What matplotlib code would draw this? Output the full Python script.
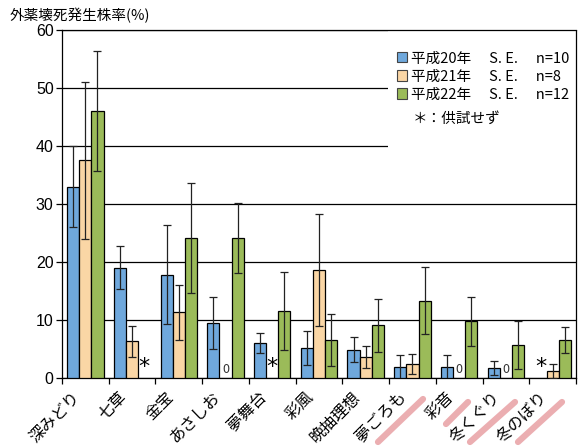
import numpy as np
import matplotlib.pyplot as plt
from matplotlib.patches import Patch, Rectangle

plt.rcParams['font.family'] = ['Noto Sans CJK JP', 'DejaVu Sans']

cultivars = ['深みどり', '七草', '金宝', 'あさしお', '夢舞台', '彩風',
             '晩抽理想', '夢ごろも', '彩音', '冬くぐり', '冬のぼり']
years = ['平成20年', '平成21年', '平成22年']
n_plants = [10, 8, 12]

# nan = not tested (*)
h20 = [33.0, 19.0, 17.8, 9.5, 6.0, 5.2, 4.9, 1.9, 1.9, 1.8, np.nan]
h20_se = [7.0, 3.7, 8.5, 4.5, 1.7, 2.9, 2.2, 2.0, 2.0, 1.2, np.nan]
h21 = [37.5, 6.3, 11.3, 0.0, np.nan, 18.6, 3.7, 2.4, 0.0, 0.0, 1.15]
h21_se = [13.5, 2.6, 4.8, 0.0, np.nan, 9.6, 1.9, 1.7, 0.0, 0.0, 1.2]
h22 = [46.0, np.nan, 24.1, 24.1, 11.6, 6.55, 9.1, 13.3, 9.8, 5.7, 6.55]
h22_se = [10.3, np.nan, 9.5, 6.0, 6.7, 4.4, 4.6, 5.8, 4.2, 4.1, 2.2]

colors = ['#6FA8DC', '#FAD6A5', '#9BBB59']

fig = plt.figure(figsize=(5.82, 4.47), dpi=100)
ax = fig.add_axes([0.1065, 0.1544, 0.8832, 0.7785])

x = np.arange(len(cultivars))
w = 0.26
series = [(h20, h20_se), (h21, h21_se), (h22, h22_se)]
for k, (vals, se) in enumerate(series):
    v = np.array(vals)
    e = np.array(se)
    pos = x + (k - 1) * w
    ok = ~np.isnan(v) & (v > 0)
    ax.bar(pos[ok], v[ok], w, color=colors[k], edgecolor='black',
           linewidth=0.9, zorder=3)
    ax.errorbar(pos[ok], v[ok], yerr=e[ok], fmt='none', ecolor='#222222',
                elinewidth=0.9, capsize=3, capthick=0.9, zorder=4)
    for p, val in zip(pos, v):
        if np.isnan(val):
            ax.text(p, 0.1, '*', ha='center', va='bottom', fontsize=16,
                    family='DejaVu Sans', zorder=5)
        elif val == 0:
            ax.text(p, 0.4, '0', ha='center', va='bottom', fontsize=9,
                    color='#333333', zorder=5)

ax.set_ylim(0, 60)
ax.set_xlim(-0.5, len(cultivars) - 0.5)
ax.set_yticks(np.arange(0, 61, 10))
ax.set_yticklabels([str(t) for t in range(0, 61, 10)],
                   family='Liberation Sans', fontsize=11.5)
ax.yaxis.grid(True, color='black', linewidth=0.9, zorder=1)
ax.set_axisbelow(True)

ax.set_xticks(np.arange(-0.5, len(cultivars), 1.0))
ax.set_xticklabels([])
ax.tick_params(axis='x', direction='out', length=4, width=0.9)
ax.tick_params(axis='y', direction='out', length=4, width=0.9, pad=2)
for i, name in enumerate(cultivars):
    ax.text(i - 0.3, -1.8, name, rotation=45, rotation_mode='anchor',
            ha='right', va='top', fontsize=11.5)

for s in ax.spines.values():
    s.set_linewidth(0.9)
ax.spines['top'].set_linestyle((0, (2, 1)))
ax.spines['right'].set_linestyle((0, (2, 1)))

# white area behind legend hides the upper gridlines
ax.add_patch(Rectangle((0.634, 0.655), 0.366, 0.345, transform=ax.transAxes,
                       facecolor='white', edgecolor='none', zorder=2))

handles = [Patch(facecolor=c, edgecolor='#444444', linewidth=0.8) for c in colors]
labels = [f'{y}　 S. E.　 n={n}' for y, n in zip(years, n_plants)]
ax.legend(handles, labels, loc='upper left', bbox_to_anchor=(0.64, 0.955),
          frameon=False, fontsize=10.5, handlelength=0.7, handleheight=0.7,
          handletextpad=0.3, labelspacing=0.28, borderaxespad=0)
ax.text(0.683, 0.745, '＊：供試せず', transform=ax.transAxes, fontsize=10.5,
        va='center', ha='left')

fig.text(0.017, 0.965, '外薬壊死発生株率(%)', fontsize=10.5, va='center', ha='left')

# highlighter marks under the last four cultivar names
for x0, y0, x1, y1 in [(378, 442, 423, 399), (446, 424, 468, 402),
                       (470, 442, 515, 402), (518, 442, 562, 402)]:
    fig.add_artist(plt.Line2D([x0 / 582, x1 / 582], [1 - y0 / 447, 1 - y1 / 447],
                              transform=fig.transFigure, color='#E8A0A4',
                              linewidth=4.5, alpha=0.85, solid_capstyle='round'))

fig.savefig('out.png', dpi=100)
